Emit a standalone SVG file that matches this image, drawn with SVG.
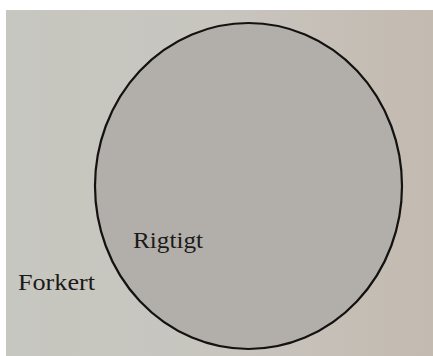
<svg xmlns="http://www.w3.org/2000/svg" width="433" height="356" viewBox="0 0 433 356">
  <defs>
    <linearGradient id="page" x1="0" y1="0" x2="1" y2="0">
      <stop offset="0" stop-color="#c6c7c0"/>
      <stop offset="0.5" stop-color="#c8c5bf"/>
      <stop offset="1" stop-color="#c3bab0"/>
    </linearGradient>
    <style>
      .lbl { font-family: "Liberation Serif", "DejaVu Serif", serif; font-size: 24px; fill: #1c1a18; }
    </style>
  </defs>
  <rect x="0" y="0" width="433" height="356" fill="#ffffff"/>
  <rect x="6" y="10" width="427" height="346" fill="url(#page)"/>
  <g id="circle-node">
    <ellipse cx="248.5" cy="186" rx="153.5" ry="163" fill="#b2afaa" stroke="#141210" stroke-width="2.2"/>
    <text class="lbl" x="133" y="248" textLength="70" lengthAdjust="spacingAndGlyphs">Rigtigt</text>
  </g>
  <g id="outside-node">
    <text class="lbl" x="18" y="290" textLength="77" lengthAdjust="spacingAndGlyphs">Forkert</text>
  </g>
  <g id="connectors"></g>
</svg>
